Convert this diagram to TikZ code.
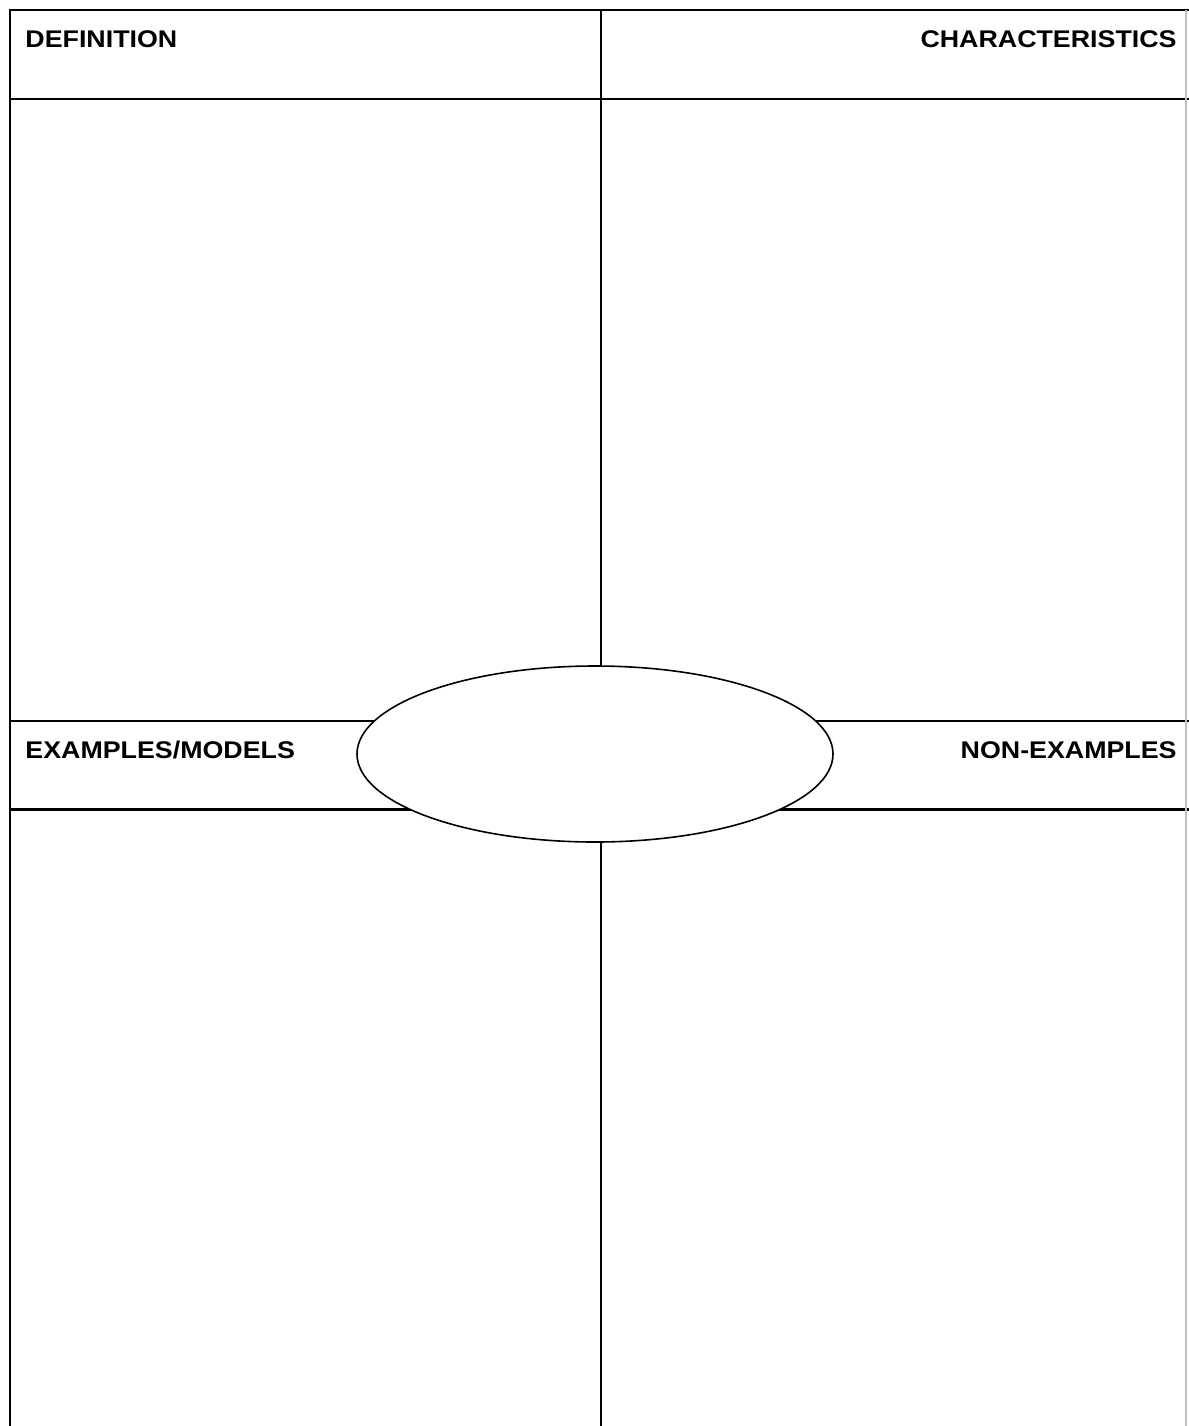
\documentclass[tikz,border=0pt]{standalone}
\usepackage{fontspec}
\setmainfont{Liberation Sans}
\usetikzlibrary{shapes.geometric}
\begin{document}
\begin{tikzpicture}[x=0.5pt,y=-0.5pt,
  frame/.style={line width=1pt,black},
  thick frame/.style={line width=1.5pt,black},
  label/.style={inner sep=0pt,font=\fontsize{13.4}{15}\selectfont\bfseries,yscale=0.9,transform shape},
  centre/.style={ellipse,draw,line width=0.8pt,fill=white,inner sep=0pt,minimum width=238pt,minimum height=88pt}]
\useasboundingbox (0,0) rectangle (1189,1426);
% frame lines
\draw[frame] (9.5,1426) -- (9.5,10) -- (1189,10);
\draw[frame] (9.5,99) -- (1189,99);
\draw[frame] (9.5,721) -- (1189,721);
\draw[thick frame] (9.5,809) -- (1189,809);
\draw[frame] (601,10) -- (601,1426);
\draw[line width=0.6pt,black!25] (1186,10) -- (1186,1426);
% centre ellipse
\node[centre] (core) at (595,754) {};
% labels
\node[label,anchor=base west] (def) at (25,47) {DEFINITION};
\node[label,anchor=base east] (char) at (1177,47) {CHARACTERISTICS};
\node[label,anchor=base west] (ex) at (25,758) {EXAMPLES/MODELS};
\node[label,anchor=base east] (nonex) at (1177,758) {NON-EXAMPLES};
\end{tikzpicture}
\end{document}
